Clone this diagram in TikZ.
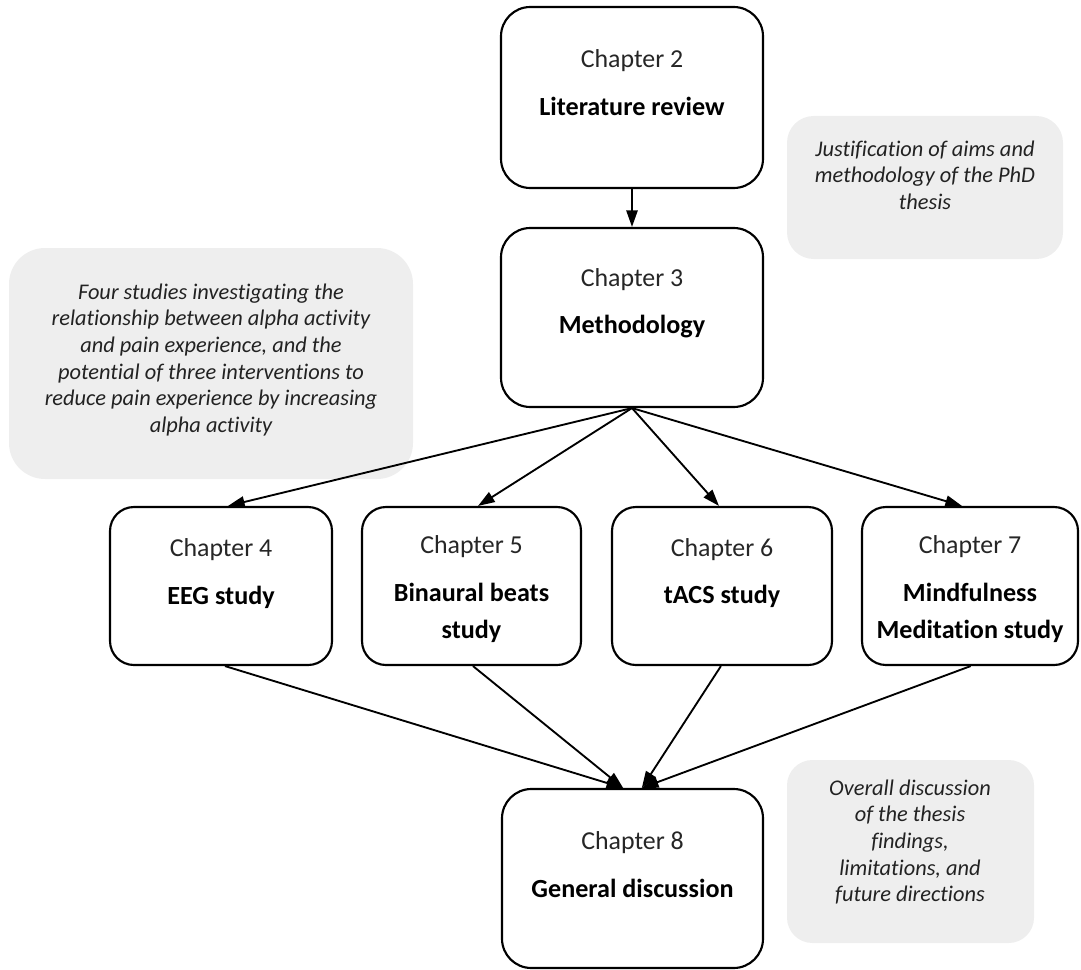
\documentclass[tikz,border=0pt]{standalone}
\usepackage{fontspec}
\setmainfont{Carlito}[Ligatures={NoCommon,NoContextual}]
\usetikzlibrary{arrows.meta}
\definecolor{notefill}{RGB}{238,238,238}
\definecolor{notetext}{RGB}{34,34,34}
\begin{document}
\begin{tikzpicture}[x=0.75pt,y=-0.75pt,
  chbox/.style={draw=black, line width=1.6pt, inner sep=0pt, rectangle},
  notebox/.style={fill=notefill, inner sep=0pt, rectangle},
  lbl/.style={anchor=base, inner sep=0pt, text=black!85, font=\fontsize{19.4}{23}\selectfont},
  ttl/.style={anchor=base, inner sep=0pt, font=\fontsize{19.6}{23}\selectfont\bfseries},
  ntxt/.style={anchor=north, inner sep=0pt, align=center, text=notetext,
    font=\fontsize{16.8}{20}\selectfont\itshape},
  arr/.style={-{Triangle[length=12.5pt,width=8.5pt]}, line width=1.4pt}
]
\useasboundingbox (0,0) rectangle (1081,970);

% grey notes
\node[notebox, rounded corners=20pt, minimum width=207pt, minimum height=107.25pt] (just) at (925,187.5) {};
\node[notebox, rounded corners=27pt, minimum width=303pt, minimum height=173.25pt] (four) at (211,363.5) {};
\node[notebox, rounded corners=19pt, minimum width=185.25pt, minimum height=137.25pt] (over) at (910.5,851.5) {};

\node[ntxt] (justt) at (925,136) {\rule{0pt}{15pt}Justification of aims and\\methodology of the PhD\\thesis};
\node[ntxt] (fourt) at (211,279) {\rule{0pt}{15pt}Four studies investigating the\\relationship between alpha activity\\and pain experience, and the\\potential of three interventions to\\reduce pain experience by increasing\\alpha activity};
\node[ntxt] (overt) at (910,775) {\rule{0pt}{15pt}Overall discussion\\of the thesis\\findings,\\limitations, and\\future directions};

% chapter boxes
\node[chbox, rounded corners=22pt, minimum width=196.5pt, minimum height=135.75pt] (ch2) at (632,97.5) {};
\node[chbox, rounded corners=22pt, minimum width=196.5pt, minimum height=134.25pt] (ch3) at (632,317.5) {};
\node[chbox, rounded corners=18pt, minimum width=166.5pt, minimum height=118.5pt] (ch4) at (221,586) {};
\node[chbox, rounded corners=18pt, minimum width=164.25pt, minimum height=118.5pt] (ch5) at (471.5,586) {};
\node[chbox, rounded corners=18pt, minimum width=165pt, minimum height=118.5pt] (ch6) at (722,586) {};
\node[chbox, rounded corners=18pt, minimum width=162pt, minimum height=118.5pt] (ch7) at (970,586) {};
\node[chbox, rounded corners=22pt, minimum width=195.75pt, minimum height=134.25pt] (ch8) at (632.5,878.5) {};

% chapter texts
\node[lbl] (ch2a) at (632,68) {Chapter 2};
\node[ttl] (ch2b) at (632,116) {Literature review};
\node[lbl] (ch3a) at (632,286.5) {Chapter 3};
\node[ttl] (ch3b) at (632,333.5) {Methodology};
\node[lbl] (ch4a) at (221,556) {Chapter 4};
\node[ttl] (ch4b) at (221,604) {EEG study};
\node[lbl] (ch5a) at (471.5,553.5) {Chapter 5};
\node[ttl] (ch5b) at (471.5,601.5) {Binaural beats};
\node[ttl] (ch5c) at (471.5,638) {study};
\node[lbl] (ch6a) at (722,556) {Chapter 6};
\node[ttl] (ch6b) at (722,603.5) {tACS study};
\node[lbl] (ch7a) at (970,553.5) {Chapter 7};
\node[ttl] (ch7b) at (970,601.5) {Mindfulness};
\node[ttl] (ch7c) at (970,638) {Meditation study};
\node[lbl] (ch8a) at (632.5,849) {Chapter 8};
\node[ttl] (ch8b) at (632.5,897.5) {General discussion};

% connectors
\draw[arr] (ch2.south) -- (ch3.north);
\draw[arr] (ch3.south) -- ([xshift=5.25pt]ch4.north);
\draw[arr] (ch3.south) -- ([xshift=4.9pt]ch5.north);
\draw[arr] (ch3.south) -- ([xshift=-2.25pt]ch6.north);
\draw[arr] (ch3.south) -- ([xshift=-6pt]ch7.north);
\draw[arr] ([xshift=3pt]ch4.south) -- ([xshift=-7pt]ch8.north);
\draw[arr] ([xshift=1.1pt]ch5.south) -- ([xshift=-7pt]ch8.north);
\draw[arr] ([xshift=-0.8pt]ch6.south) -- ([xshift=7pt]ch8.north);
\draw[arr] ([xshift=0.5pt]ch7.south) -- ([xshift=7pt]ch8.north);
\end{tikzpicture}
\end{document}
